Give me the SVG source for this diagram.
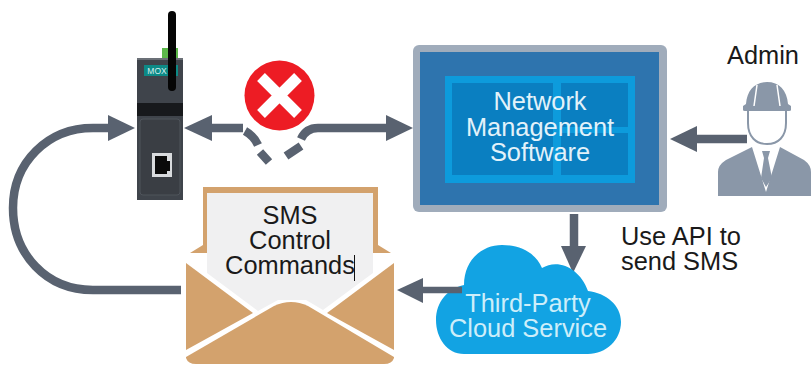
<svg xmlns="http://www.w3.org/2000/svg" width="811" height="365" viewBox="0 0 811 365">
<style>
text{font-family:"Liberation Sans",Arial,sans-serif;text-anchor:middle;font-size:25.400px}
.k{fill:#1a1a1a}
.w{fill:#e2f2fa}
.l{fill:#cdeefa}
.c{fill:none;stroke:#596270;stroke-width:8.500}
.h{fill:#596270}
.p{fill:#8a97a8}
.e{fill:#d3a26d}
</style>
<rect width="811" height="365" fill="#fff"/>
<g id="connectors">
<path class="c" d="M181 290H93C46 290 13 254 13 208C13 162 48 128 93 128H112"/>
<path class="h" d="M135 128L108 115V141Z"/>
<path class="c" d="M243 128H205"/>
<path class="h" d="M184 128L212 115V141Z"/>
<path class="c" d="M301 139Q306 128 318 128H392"/>
<path class="h" d="M413 128L386 115V141Z"/>
<path class="c" d="M245 131Q254 136 258 145M260 152L269 162M286 156L301 146"/>
<path class="c" d="M747 139H690"/>
<path class="h" d="M670 139L697 126V152Z"/>
<path class="c" d="M574 214V252"/>
<path class="h" d="M573 273L561 246H586Z"/>
</g>
<g id="router">
<rect x="137" y="58" width="46" height="142" fill="#3f444b"/>
<rect x="137" y="58" width="46" height="2" fill="#6b7077"/>
<rect x="137" y="103" width="46" height="13" fill="#17191c"/>
<rect x="140" y="119" width="40" height="76" rx="3" fill="#3a3e44" stroke="#4f545b"/>
<rect x="144" y="65" width="34" height="11" fill="#0d8a86"/>
<text x="157" y="74" style="font-size:8.500px;fill:#d5eeee">MOX</text>
<rect x="162" y="48" width="16" height="10" fill="#5cb84a"/>
<rect x="152" y="153" width="20" height="24" fill="#d8dadd"/>
<path d="M155 156H167V161H170V171H167V174H155Z" fill="#0a0a0a"/>
<rect x="168" y="11" width="8" height="80" rx="4" fill="#050505"/>
</g>
<g id="error">
<circle cx="279.500" cy="95.500" r="35" fill="#ed1c24"/>
<path d="M261 77L298 114M298 77L261 114" stroke="#fff" stroke-width="11" fill="none"/>
</g>
<g id="software">
<rect x="413" y="45" width="254" height="167" rx="6" fill="#a0acbb"/>
<rect x="420" y="52" width="239" height="153" fill="#2e74ae"/>
<rect x="445" y="76" width="190" height="107" fill="#0d9bdc"/>
<rect x="452" y="83" width="101" height="92" fill="#0a7fc1"/>
<rect x="561" y="83" width="67" height="44" fill="#0a7fc1"/>
<rect x="561" y="133" width="67" height="42" fill="#0a7fc1"/>
<text class="w" x="540" y="110">Network</text>
<text class="w" x="540" y="136">Management</text>
<text class="w" x="540" y="161">Software</text>
</g>
<g id="admin">
<text class="k" x="763" y="64">Admin</text>
<path class="p" d="M746 104C747 90 755 82 767 82C779 82 787 90 788 104L791 106V110Q791 111 789 111H745Q743 111 743 110V106Z"/>
<path d="M748 111V123C748 137 756 144 767 144C778 144 786 137 786 123V111" fill="#fff" stroke="#8a97a8" stroke-width="2"/>
<path class="p" d="M718 196V172Q718 165 726 160L752 147L766 192L780 147L804 160Q811 165 811 172V196Z"/>
<path d="M758 150L766 188L774 150L772 148H760Z" fill="#fff"/>
<path class="p" d="M762 151H770L768 158L772 178L766 187L761 178L764 158Z"/>
<path d="M757 85L754 106M777 85L780 106" stroke="#fff" stroke-width="1.500"/>
</g>
<g id="envelope">
<path class="e" d="M190 253L203 245V187H378V245L391 253Z"/>
<rect x="207" y="193" width="166" height="80" fill="#f0f0f1"/>
<path d="M190 256.500H207M373 256.500H391" stroke="#fff" stroke-width="5"/>
<path d="M207 250H373V273L323 310L306 300H278L258 311L207 273Z" fill="#f0f0f1"/>
<path class="e" d="M186 263L253 313L186 350Z"/>
<path class="e" d="M394 263L327 313L394 350Z"/>
<path class="e" d="M186 357L274 306Q291 298 308 306L394 357V358Q392 364 384 364H196Q188 364 186 358Z"/>
<text class="k" x="290" y="224">SMS</text>
<text class="k" x="290" y="249">Control</text>
<text class="k" x="290" y="274">Commands</text>
<path d="M354.500 255V281" stroke="#111"/>
</g>
<g id="cloud">
<path d="M464 354C447 354 436 338 436 320C436 302 448 288 464 285C464 260 482 245 502 245C522 245 536 254 542 268C558 258 580 268 588 291C606 293 621 305 621 322C621 340 606 354 588 354Z" fill="#12a3e3"/>
<text class="l" x="528" y="312">Third-Party</text>
<text class="l" x="528" y="337">Cloud Service</text>
</g>
<g id="connector-cloud-envelope">
<path d="M462 290H418" fill="none" stroke="#596270" stroke-width="6.500"/>
<path class="h" d="M397 290L423 278V303Z"/>
</g>
<g id="api-label">
<text class="k" x="621" y="245" style="text-anchor:start">Use API to</text>
<text class="k" x="621" y="270" style="text-anchor:start">send SMS</text>
</g>
</svg>
